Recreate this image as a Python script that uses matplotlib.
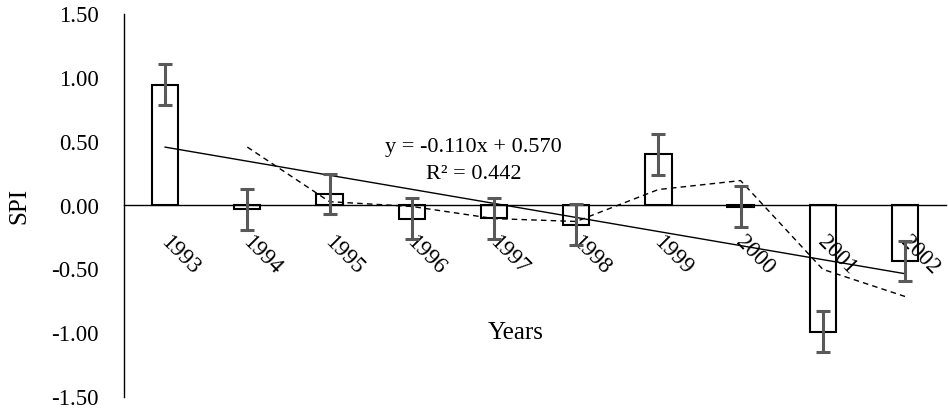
import numpy as np
import matplotlib
matplotlib.use("Agg")
import matplotlib.pyplot as plt
from matplotlib.transforms import ScaledTranslation

plt.rcParams['font.family'] = ['Liberation Serif', 'DejaVu Serif']

years = ["1993", "1994", "1995", "1996", "1997", "1998", "1999", "2000", "2001", "2002"]
spi = [0.945, -0.03, 0.09, -0.105, -0.10, -0.15, 0.40, -0.01, -0.99, -0.435]
spi_err = [0.16] * 10
y_ticks = [-1.5, -1.0, -0.5, 0.0, 0.5, 1.0, 1.5]

x = np.arange(1, len(years) + 1)
vals = np.array(spi)

fig = plt.figure(figsize=(9.48, 4.11), dpi=100)
ax = fig.add_axes([0.1308, 0.034, 0.8672, 0.932])
ax.set_axisbelow(False)

ax.spines['top'].set_visible(False)
ax.spines['right'].set_visible(False)
ax.spines['bottom'].set_position(('data', 0))
ax.spines['left'].set_linewidth(1)
ax.spines['bottom'].set_linewidth(1)

ax.bar(x, vals, width=0.32, facecolor='white', edgecolor='black', linewidth=1.5, zorder=2)
ax.errorbar(x, vals, yerr=spi_err, fmt='none', ecolor='#595959', elinewidth=2.2,
            capsize=4.7, capthick=2.2, zorder=4)

# linear trend
slope, icpt = np.polyfit(x, vals, 1)
ax.plot(x, slope * x + icpt, color='black', linewidth=1, zorder=3)

# 2-period moving average
ma = (vals[1:] + vals[:-1]) / 2
ax.plot(x[1:], ma, color='black', linewidth=1, linestyle=(0, (4, 3)), zorder=3)

ax.text(4.75, 0.455, "y = -0.110x + 0.570", ha='center', va='center', fontsize=16)
ax.text(4.75, 0.24, "R² = 0.442", ha='center', va='center', fontsize=16)

ax.set_xlim(0.5, 10.5)
ax.set_ylim(-1.5, 1.5)
ax.set_yticks(y_ticks)
ax.set_yticklabels([f"{t:.2f}" for t in y_ticks], fontsize=16.5)
ax.tick_params(axis='y', length=0, pad=18)
ax.set_xticks(x)
ax.set_xticklabels(years, fontsize=16.5, rotation=-45, ha='left', va='top', rotation_mode='anchor')
ax.tick_params(axis='x', length=0, pad=12)
shift = ScaledTranslation(0.06, -0.10, fig.dpi_scale_trans)
for lbl in ax.get_xticklabels():
    lbl.set_transform(lbl.get_transform() + shift)

ax.set_ylabel("SPI", fontsize=18, labelpad=15)
ax.text(0.476, 0.167, "Years", transform=ax.transAxes, ha='center', va='center', fontsize=18)

fig.savefig("out.png", dpi=100)
